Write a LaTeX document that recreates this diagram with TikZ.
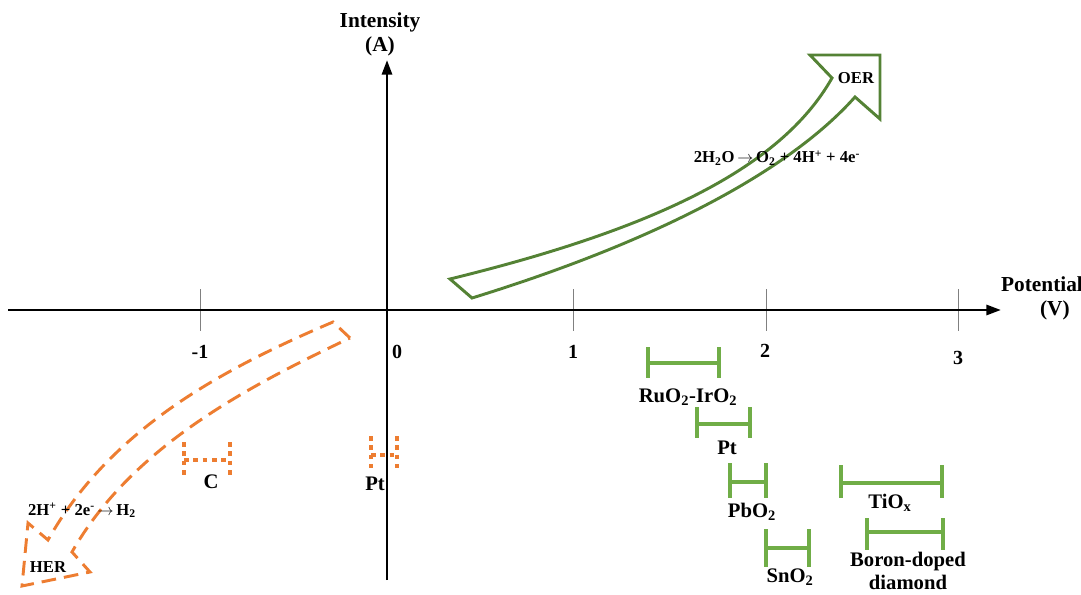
\documentclass[tikz,border=0pt]{standalone}
\usepackage{fontspec}
\setmainfont{Liberation Serif}
\usetikzlibrary{arrows.meta}
\definecolor{oergreen}{RGB}{84,130,53}
\definecolor{barg}{RGB}{112,173,71}
\definecolor{herorange}{RGB}{237,125,49}
\newcommand{\rarr}{\ensuremath{\rightarrow}}
\tikzset{
  axisline/.style={line width=2.2pt,-{Triangle[length=11pt,width=7.5pt]}},
  tickline/.style={gray,line width=0.6pt},
  ticklab/.style={font=\bfseries\fontsize{15}{17}\selectfont,inner sep=0pt},
  biglab/.style={font=\bfseries\fontsize{16}{18}\selectfont,inner sep=0pt,align=center},
  matlab/.style={font=\bfseries\fontsize{15.5}{17}\selectfont,inner sep=0pt,align=center},
  smalllab/.style={font=\bfseries\fontsize{12.5}{14}\selectfont,inner sep=0pt},
  reaclab/.style={font=\bfseries\fontsize{12.5}{14}\selectfont,inner sep=0pt},
  gbar/.style={barg,line width=3pt},
  obar/.style={herorange,line width=2.4pt,dash pattern=on 3.5pt off 3.5pt},
  oerarrow/.style={oergreen,line width=2.2pt,line join=miter},
  herarrow/.style={herorange,line width=2.2pt,dash pattern=on 11pt off 6pt,line join=miter},
}
\begin{document}
\begin{tikzpicture}[x=0.75pt,y=-0.75pt]
\useasboundingbox (0,0) rectangle (1081,595);
% axes
\coordinate (xs) at (8,310);
\coordinate (xe) at (1001,310);
\coordinate (ys) at (387,580);
\coordinate (ye) at (387,60);
% ticks
\foreach \x/\n in {200/m1,573/p1,766/p2,958/p3}{
  \coordinate (t\n a) at (\x,289);
  \coordinate (t\n b) at (\x,331);
  \draw[tickline] (t\n a) -- (t\n b);
}
\draw[axisline] (xs) -- (xe);
\draw[axisline] (ys) -- (ye);
\node[ticklab] (lm1) at (200,352) {-1};
\node[ticklab] (l0) at (397,352) {0};
\node[ticklab] (l1) at (573,352) {1};
\node[ticklab] (l2) at (765,351) {2};
\node[ticklab] (l3) at (958,358) {3};
\node[biglab] (ylab) at (380,34) {Intensity\\(A)};
\node[biglab] (xlab) at (1042,298) {Potential\\\hspace*{1.2em}(V)};
% OER arrow
\draw[oerarrow] (472,298) -- (450,279)
  .. controls (650,230) and (780,170) .. (832,78)
  -- (810,55) -- (880,55) -- (880,119) -- (855,97)
  .. controls (790,170) and (660,240) .. (472,298) -- cycle;
\node[smalllab] (oer) at (856,78) {OER};
\node[reaclab] (oerr) at (777,158) {2H\textsubscript{2}O\,\rarr\,O\textsubscript{2} + 4H\textsuperscript{+} + 4e\textsuperscript{-}};
% HER arrow
\draw[herarrow] (350,338) -- (333,322)
  .. controls (220,370) and (110,430) .. (48,540)
  -- (28,523) -- (22,586) -- (90,572) -- (72,552)
  .. controls (130,450) and (240,390) .. (350,338);
\node[smalllab] (her) at (48,567) {HER};
\node[reaclab] (herr) at (82,510) {2H\textsuperscript{+} + 2e\textsuperscript{-}\,\rarr\,H\textsubscript{2}};
% orange dotted bars
\draw[obar] (184,442) -- (184,475) (230,442) -- (230,475) (184,460) -- (230,460);
\node[matlab] (c) at (211,482) {C};
\draw[obar] (371,436) -- (371,468) (397,436) -- (397,468) (371,455) -- (397,455);
\node[matlab] (pto) at (375,484) {Pt};
% green bars
\draw[gbar] (648,347) -- (648,378) (719,347) -- (719,378) (648,363) -- (719,363);
\node[matlab] (ru) at (688,397) {RuO\textsubscript{2}-IrO\textsubscript{2}};
\draw[gbar] (697,407) -- (697,438) (750,407) -- (750,438) (697,424) -- (750,424);
\node[matlab] (ptg) at (727,448) {Pt};
\draw[gbar] (730,463) -- (730,498) (766,463) -- (766,498) (730,482) -- (766,482);
\node[matlab] (pb) at (752,512) {PbO\textsubscript{2}};
\draw[gbar] (766,529) -- (766,567) (809,529) -- (809,567) (766,548) -- (809,548);
\node[matlab] (sn) at (790,577) {SnO\textsubscript{2}};
\draw[gbar] (841,465) -- (841,498) (942,465) -- (942,498) (841,483) -- (942,483);
\node[matlab] (ti) at (890,503) {TiO\textsubscript{x}};
\draw[gbar] (867,518) -- (867,550) (943,518) -- (943,550) (867,532) -- (943,532);
\node[matlab] (bdd) at (908,571) {Boron-doped\\diamond};
\end{tikzpicture}
\end{document}
